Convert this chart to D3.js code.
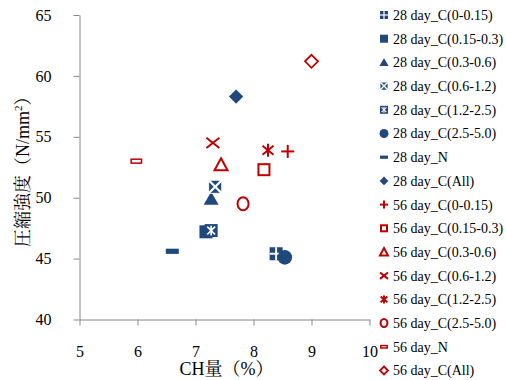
<!DOCTYPE html>
<html>
<head>
<meta charset="utf-8">
<script src="https://cdn.jsdelivr.net/npm/d3@7/dist/d3.min.js"></script>
<style>
  html, body { margin: 0; padding: 0; background: #fff; }
  svg { display: block; }
</style>
</head>
<body>
<svg id="chart" width="506" height="380"></svg>
<script>
// Compressive strength vs CH content, 28-day and 56-day series
const seriesNames = [
  "28 day_C(0-0.15)", "28 day_C(0.15-0.3)", "28 day_C(0.3-0.6)", "28 day_C(0.6-1.2)",
  "28 day_C(1.2-2.5)", "28 day_C(2.5-5.0)", "28 day_N", "28 day_C(All)",
  "56 day_C(0-0.15)", "56 day_C(0.15-0.3)", "56 day_C(0.3-0.6)", "56 day_C(0.6-1.2)",
  "56 day_C(1.2-2.5)", "56 day_C(2.5-5.0)", "56 day_N", "56 day_C(All)"
];
const chValues = [8.39, 7.18, 7.27, 7.34, 7.27, 8.54, 6.60, 7.70,
                  8.59, 8.18, 7.44, 7.30, 8.25, 7.82, 5.98, 9.00];
const strengthValues = [45.4, 47.2, 49.9, 50.9, 47.3, 45.1, 45.6, 58.3,
                        53.8, 52.3, 52.7, 54.5, 53.9, 49.5, 53.0, 61.2];
const markerTypes = ["sqPlus", "sq", "tri", "sqX", "sqStar", "circle", "dash", "diamond",
                     "plus", "oSq", "oTri", "x", "star", "oCircle", "oDash", "oDiamond"];
const xTicks = [5, 6, 7, 8, 9, 10];
const yTicks = [40, 45, 50, 55, 60, 65];

const BLUE = "#1F497D", RED = "#C00000";
const SERIF = '"Liberation Serif", "Noto Serif CJK JP", serif';
const svg = d3.select("#chart");
const plot = { left: 79.5, right: 369.5, top: 15, bottom: 319.5 };

const x = d3.scaleLinear().domain([5, 10]).range([plot.left, plot.right]);
const y = d3.scaleLinear().domain([40, 65]).range([plot.bottom, plot.top]);

// axes
const xAxis = svg.append("g").attr("transform", `translate(0,${plot.bottom})`)
  .call(d3.axisBottom(x).tickValues(xTicks).tickFormat(d3.format("d"))
    .tickSize(6).tickPadding(20).tickSizeOuter(0));
const yAxis = svg.append("g").attr("transform", `translate(${plot.left},0)`)
  .call(d3.axisLeft(y).tickValues(yTicks).tickFormat(d3.format("d"))
    .tickSize(6).tickPadding(22).tickSizeOuter(0));
[xAxis, yAxis].forEach(g => {
  g.select(".domain").attr("stroke", "#888").attr("stroke-width", 1);
  g.selectAll(".tick line").attr("stroke", "#888");
  g.selectAll(".tick text").style("font-family", SERIF).style("font-size", "16px").attr("fill", "#000");
});

// axis titles
svg.append("text").attr("x", (plot.left + plot.right) / 2 + 2).attr("y", 375)
  .attr("text-anchor", "middle").style("font-family", SERIF).style("font-size", "18px")
  .text("CH量（%）");
const yt = svg.append("text")
  .attr("transform", `translate(29,${(plot.top + plot.bottom) / 2}) rotate(-90)`)
  .attr("text-anchor", "middle").style("font-family", SERIF).style("font-size", "18px");
yt.append("tspan").text("圧縮強度（N/mm");
yt.append("tspan").style("font-size", "11px").attr("dy", -7).text("2");
yt.append("tspan").attr("dy", 7).text("）");

// marker painter: s = nominal size
function drawMarker(g, type, s) {
  const h = s / 2;
  const line = (x1, y1, x2, y2, c, w) => g.append("line")
    .attr("x1", x1).attr("y1", y1).attr("x2", x2).attr("y2", y2)
    .attr("stroke", c).attr("stroke-width", w);
  switch (type) {
    case "sq":
      g.append("rect").attr("x", -h).attr("y", -h).attr("width", s).attr("height", s).attr("fill", BLUE);
      break;
    case "sqPlus":
      g.append("rect").attr("x", -h).attr("y", -h).attr("width", s).attr("height", s).attr("fill", BLUE);
      line(-h, 0, h, 0, "#fff", s * 0.15); line(0, -h, 0, h, "#fff", s * 0.15);
      break;
    case "sqX":
      g.append("rect").attr("x", -h).attr("y", -h).attr("width", s).attr("height", s)
        .attr("fill", BLUE).attr("stroke", "#fff").attr("stroke-width", 0.8);
      line(-h, -h, h, h, "#fff", s * 0.17); line(-h, h, h, -h, "#fff", s * 0.17);
      break;
    case "sqStar":
      g.append("rect").attr("x", -h).attr("y", -h).attr("width", s).attr("height", s).attr("fill", BLUE);
      line(0, -h * 0.75, 0, h * 0.75, "#fff", s * 0.13);
      line(-h * 0.6, -h * 0.6, h * 0.6, h * 0.6, "#fff", s * 0.13);
      line(-h * 0.6, h * 0.6, h * 0.6, -h * 0.6, "#fff", s * 0.13);
      break;
    case "tri":
      g.append("path").attr("d", `M0,${-h * 1.1}L${h * 1.15},${h * 0.9}L${-h * 1.15},${h * 0.9}Z`).attr("fill", BLUE);
      break;
    case "circle":
      g.append("circle").attr("r", h * 1.12).attr("fill", BLUE);
      break;
    case "dash":
      g.append("rect").attr("x", -h).attr("y", -s * 0.2).attr("width", s).attr("height", s * 0.4).attr("fill", BLUE);
      break;
    case "diamond":
      g.append("path").attr("d", `M0,${-h * 1.1}L${h * 1.1},0L0,${h * 1.1}L${-h * 1.1},0Z`).attr("fill", BLUE);
      break;
    case "plus":
      line(-h, 0, h, 0, RED, 2); line(0, -h, 0, h, RED, 2);
      break;
    case "oSq":
      g.append("rect").attr("x", -h + 1).attr("y", -h + 1).attr("width", s - 2).attr("height", s - 2)
        .attr("fill", "none").attr("stroke", RED).attr("stroke-width", 2);
      break;
    case "oTri":
      g.append("path").attr("d", `M0,${-h}L${h},${h * 0.85}L${-h},${h * 0.85}Z`)
        .attr("fill", "none").attr("stroke", RED).attr("stroke-width", 2);
      break;
    case "x":
      line(-h, -h * 0.8, h, h * 0.8, RED, 2); line(-h, h * 0.8, h, -h * 0.8, RED, 2);
      break;
    case "star":
      line(0, -h, 0, h, RED, 2);
      line(-h * 0.85, -h * 0.7, h * 0.85, h * 0.7, RED, 2);
      line(-h * 0.85, h * 0.7, h * 0.85, -h * 0.7, RED, 2);
      break;
    case "oCircle":
      g.append("ellipse").attr("rx", h * 0.85).attr("ry", h).attr("fill", "none")
        .attr("stroke", RED).attr("stroke-width", 2);
      break;
    case "oDash":
      g.append("rect").attr("x", -h * 0.8).attr("y", -s * 0.15).attr("width", s * 0.8).attr("height", s * 0.3)
        .attr("fill", "none").attr("stroke", RED).attr("stroke-width", 1.5);
      break;
    case "oDiamond":
      g.append("path").attr("d", `M0,${-h}L${h},0L0,${h}L${-h},0Z`)
        .attr("fill", "none").attr("stroke", RED).attr("stroke-width", 1.8);
      break;
  }
}

// data points
const points = seriesNames.map((name, i) => ({ name, ch: chValues[i], fc: strengthValues[i], type: markerTypes[i] }));
svg.append("g").selectAll("g").data(points).join("g")
  .attr("transform", d => `translate(${x(d.ch)},${y(d.fc)})`)
  .each(function (d) { drawMarker(d3.select(this), d.type, 13); });

// legend
const legend = svg.append("g").selectAll("g").data(points).join("g")
  .attr("transform", (d, i) => `translate(384,${15 + i * 23.7})`);
legend.each(function (d) { drawMarker(d3.select(this), d.type, 8); });
legend.append("text").attr("x", 9).attr("dy", "0.35em")
  .style("font-family", SERIF).style("font-size", "14px").attr("fill", "#000")
  .text(d => d.name);
</script>
</body>
</html>
